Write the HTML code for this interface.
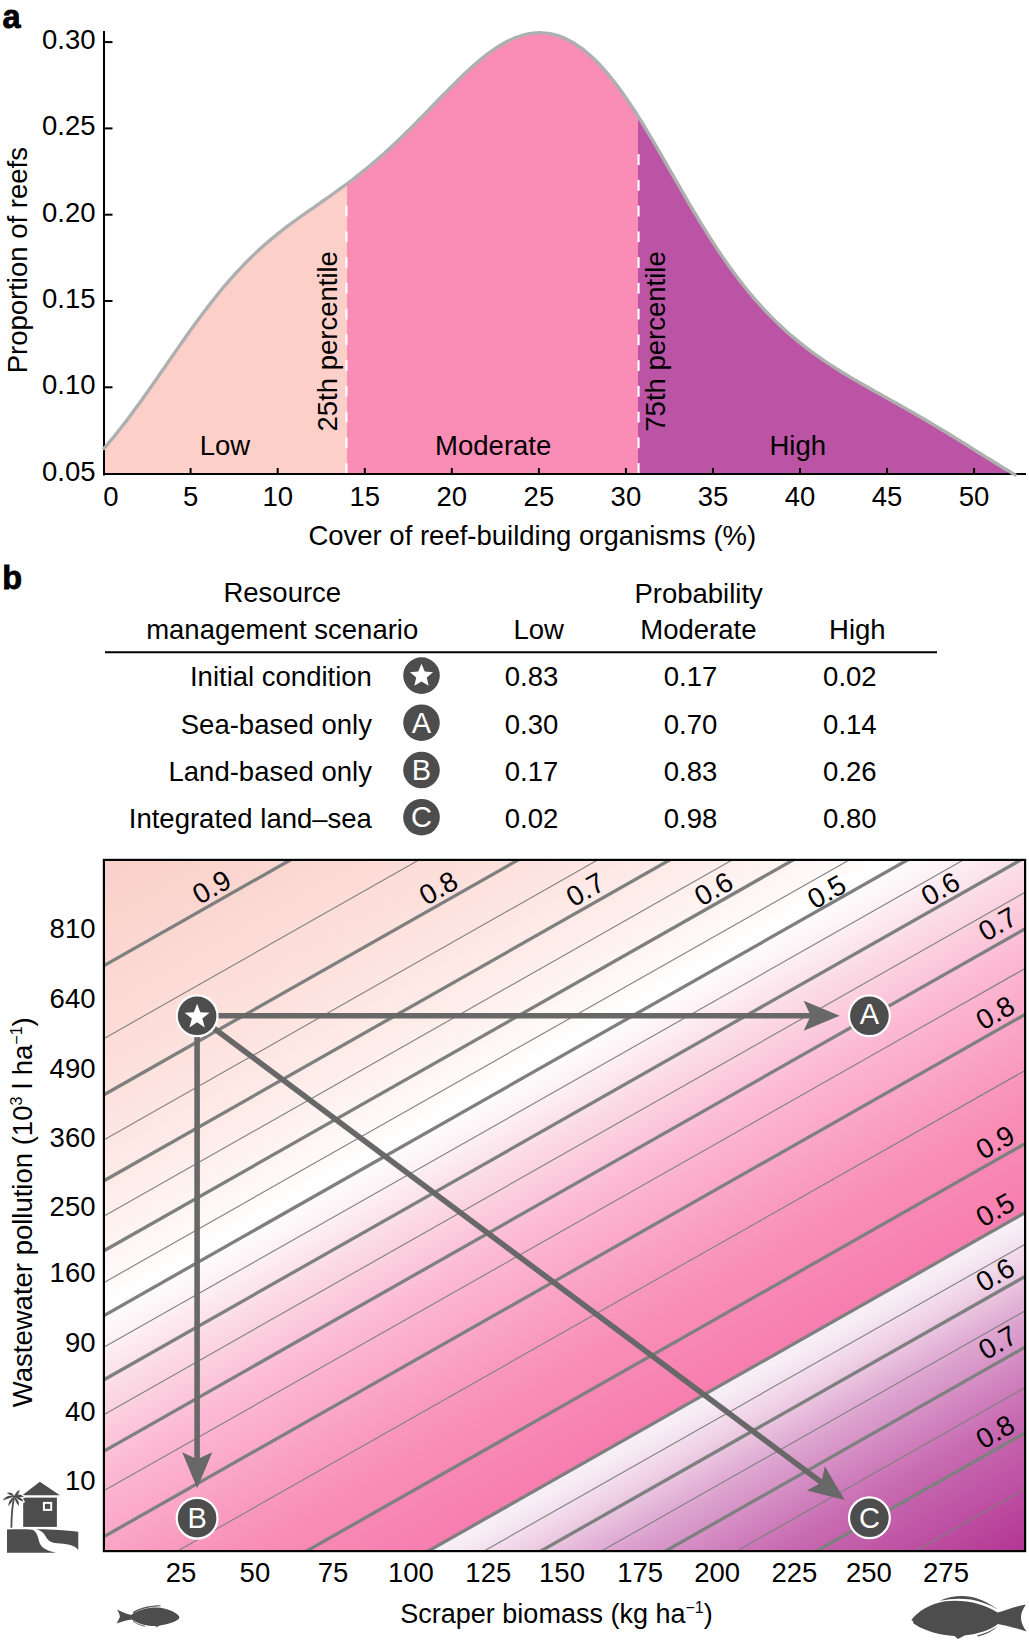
<!DOCTYPE html>
<html><head><meta charset="utf-8"><style>
html,body{margin:0;padding:0;background:#fff;}
svg{display:block;}
text{font-family:"Liberation Sans", sans-serif;}
</style></head><body>
<svg width="1029" height="1640" viewBox="0 0 1029 1640">
<rect width="1029" height="1640" fill="#fff"/>
<defs>
<clipPath id="cLow"><rect x="100" y="0" width="247" height="480"/></clipPath>
<clipPath id="cMod"><rect x="347" y="0" width="291" height="480"/></clipPath>
<clipPath id="cHigh"><rect x="638" y="0" width="400" height="480"/></clipPath>
</defs>
<path d="M104.0,448.4 L107.0,445.0 L110.0,441.4 L113.0,437.8 L116.0,434.1 L119.0,430.3 L122.0,426.5 L125.0,422.6 L128.0,418.7 L131.0,414.7 L134.0,410.6 L137.0,406.5 L140.0,402.4 L143.0,398.2 L146.0,394.0 L149.0,389.8 L152.0,385.5 L155.0,381.2 L158.0,376.9 L161.0,372.5 L164.0,368.2 L167.0,363.9 L170.0,359.5 L173.0,355.2 L176.0,350.9 L179.0,346.6 L182.0,342.3 L185.0,338.0 L188.0,333.8 L191.0,329.6 L194.0,325.5 L197.0,321.3 L200.0,317.3 L203.0,313.3 L206.0,309.3 L209.0,305.4 L212.0,301.5 L215.0,297.7 L218.0,294.0 L221.0,290.3 L224.0,286.7 L227.0,283.2 L230.0,279.7 L233.0,276.3 L236.0,273.0 L239.0,269.8 L242.0,266.6 L245.0,263.5 L248.0,260.4 L251.0,257.5 L254.0,254.6 L257.0,251.7 L260.0,249.0 L263.0,246.3 L266.0,243.6 L269.0,241.1 L272.0,238.5 L275.0,236.1 L278.0,233.6 L281.0,231.3 L284.0,228.9 L287.0,226.6 L290.0,224.4 L293.0,222.2 L296.0,220.0 L299.0,217.8 L302.0,215.7 L305.0,213.6 L308.0,211.4 L311.0,209.4 L314.0,207.3 L317.0,205.2 L320.0,203.1 L323.0,201.0 L326.0,198.9 L329.0,196.8 L332.0,194.7 L335.0,192.5 L338.0,190.4 L341.0,188.2 L344.0,186.0 L347.0,183.8 L350.0,181.5 L353.0,179.3 L356.0,176.9 L359.0,174.6 L362.0,172.2 L365.0,169.8 L368.0,167.3 L371.0,164.8 L374.0,162.3 L377.0,159.7 L380.0,157.1 L383.0,154.4 L386.0,151.7 L389.0,149.0 L392.0,146.2 L395.0,143.4 L398.0,140.6 L401.0,137.7 L404.0,134.8 L407.0,131.8 L410.0,128.9 L413.0,125.9 L416.0,122.9 L419.0,119.8 L422.0,116.8 L425.0,113.7 L428.0,110.6 L431.0,107.5 L434.0,104.4 L437.0,101.3 L440.0,98.3 L443.0,95.2 L446.0,92.1 L449.0,89.1 L452.0,86.1 L455.0,83.1 L458.0,80.1 L461.0,77.2 L464.0,74.3 L467.0,71.5 L470.0,68.8 L473.0,66.1 L476.0,63.5 L479.0,60.9 L482.0,58.4 L485.0,56.0 L488.0,53.7 L491.0,51.5 L494.0,49.4 L497.0,47.4 L500.0,45.5 L503.0,43.8 L506.0,42.1 L509.0,40.6 L512.0,39.2 L515.0,37.9 L518.0,36.8 L521.0,35.8 L524.0,34.9 L527.0,34.2 L530.0,33.6 L533.0,33.2 L536.0,32.9 L539.0,32.8 L542.0,32.9 L545.0,33.1 L548.0,33.4 L551.0,33.9 L554.0,34.6 L557.0,35.4 L560.0,36.4 L563.0,37.6 L566.0,38.9 L569.0,40.4 L572.0,42.0 L575.0,43.8 L578.0,45.8 L581.0,47.9 L584.0,50.2 L587.0,52.7 L590.0,55.3 L593.0,58.0 L596.0,61.0 L599.0,64.0 L602.0,67.2 L605.0,70.6 L608.0,74.1 L611.0,77.8 L614.0,81.6 L617.0,85.5 L620.0,89.5 L623.0,93.7 L626.0,98.0 L629.0,102.4 L632.0,106.9 L635.0,111.5 L638.0,116.2 L641.0,121.0 L644.0,125.9 L647.0,130.8 L650.0,135.8 L653.0,140.9 L656.0,146.0 L659.0,151.2 L662.0,156.4 L665.0,161.6 L668.0,166.8 L671.0,172.0 L674.0,177.3 L677.0,182.5 L680.0,187.7 L683.0,192.9 L686.0,198.1 L689.0,203.3 L692.0,208.4 L695.0,213.4 L698.0,218.4 L701.0,223.4 L704.0,228.2 L707.0,233.1 L710.0,237.8 L713.0,242.5 L716.0,247.1 L719.0,251.6 L722.0,256.1 L725.0,260.4 L728.0,264.7 L731.0,268.9 L734.0,273.0 L737.0,277.0 L740.0,280.9 L743.0,284.8 L746.0,288.5 L749.0,292.2 L752.0,295.8 L755.0,299.3 L758.0,302.7 L761.0,306.1 L764.0,309.3 L767.0,312.5 L770.0,315.6 L773.0,318.6 L776.0,321.6 L779.0,324.5 L782.0,327.3 L785.0,330.1 L788.0,332.7 L791.0,335.4 L794.0,337.9 L797.0,340.4 L800.0,342.9 L803.0,345.2 L806.0,347.6 L809.0,349.9 L812.0,352.1 L815.0,354.3 L818.0,356.4 L821.0,358.5 L824.0,360.6 L827.0,362.6 L830.0,364.6 L833.0,366.5 L836.0,368.4 L839.0,370.3 L842.0,372.2 L845.0,374.0 L848.0,375.8 L851.0,377.6 L854.0,379.4 L857.0,381.1 L860.0,382.9 L863.0,384.6 L866.0,386.3 L869.0,388.0 L872.0,389.7 L875.0,391.4 L878.0,393.0 L881.0,394.7 L884.0,396.4 L887.0,398.1 L890.0,399.7 L893.0,401.4 L896.0,403.1 L899.0,404.8 L902.0,406.5 L905.0,408.1 L908.0,409.9 L911.0,411.6 L914.0,413.3 L917.0,415.0 L920.0,416.7 L923.0,418.5 L926.0,420.2 L929.0,422.0 L932.0,423.8 L935.0,425.6 L938.0,427.4 L941.0,429.2 L944.0,431.0 L947.0,432.8 L950.0,434.7 L953.0,436.5 L956.0,438.4 L959.0,440.2 L962.0,442.1 L965.0,444.0 L968.0,445.8 L971.0,447.7 L974.0,449.6 L977.0,451.5 L980.0,453.3 L983.0,455.2 L986.0,457.1 L989.0,459.0 L992.0,460.8 L995.0,462.7 L998.0,464.5 L1001.0,466.4 L1004.0,468.2 L1007.0,470.0 L1010.0,471.8 L1013.0,473.6 L1015.1,474.9 L1015.1,474.5 L104,474.5 L104,448.4 Z" fill="#fccfc9" clip-path="url(#cLow)"/>
<path d="M104.0,448.4 L107.0,445.0 L110.0,441.4 L113.0,437.8 L116.0,434.1 L119.0,430.3 L122.0,426.5 L125.0,422.6 L128.0,418.7 L131.0,414.7 L134.0,410.6 L137.0,406.5 L140.0,402.4 L143.0,398.2 L146.0,394.0 L149.0,389.8 L152.0,385.5 L155.0,381.2 L158.0,376.9 L161.0,372.5 L164.0,368.2 L167.0,363.9 L170.0,359.5 L173.0,355.2 L176.0,350.9 L179.0,346.6 L182.0,342.3 L185.0,338.0 L188.0,333.8 L191.0,329.6 L194.0,325.5 L197.0,321.3 L200.0,317.3 L203.0,313.3 L206.0,309.3 L209.0,305.4 L212.0,301.5 L215.0,297.7 L218.0,294.0 L221.0,290.3 L224.0,286.7 L227.0,283.2 L230.0,279.7 L233.0,276.3 L236.0,273.0 L239.0,269.8 L242.0,266.6 L245.0,263.5 L248.0,260.4 L251.0,257.5 L254.0,254.6 L257.0,251.7 L260.0,249.0 L263.0,246.3 L266.0,243.6 L269.0,241.1 L272.0,238.5 L275.0,236.1 L278.0,233.6 L281.0,231.3 L284.0,228.9 L287.0,226.6 L290.0,224.4 L293.0,222.2 L296.0,220.0 L299.0,217.8 L302.0,215.7 L305.0,213.6 L308.0,211.4 L311.0,209.4 L314.0,207.3 L317.0,205.2 L320.0,203.1 L323.0,201.0 L326.0,198.9 L329.0,196.8 L332.0,194.7 L335.0,192.5 L338.0,190.4 L341.0,188.2 L344.0,186.0 L347.0,183.8 L350.0,181.5 L353.0,179.3 L356.0,176.9 L359.0,174.6 L362.0,172.2 L365.0,169.8 L368.0,167.3 L371.0,164.8 L374.0,162.3 L377.0,159.7 L380.0,157.1 L383.0,154.4 L386.0,151.7 L389.0,149.0 L392.0,146.2 L395.0,143.4 L398.0,140.6 L401.0,137.7 L404.0,134.8 L407.0,131.8 L410.0,128.9 L413.0,125.9 L416.0,122.9 L419.0,119.8 L422.0,116.8 L425.0,113.7 L428.0,110.6 L431.0,107.5 L434.0,104.4 L437.0,101.3 L440.0,98.3 L443.0,95.2 L446.0,92.1 L449.0,89.1 L452.0,86.1 L455.0,83.1 L458.0,80.1 L461.0,77.2 L464.0,74.3 L467.0,71.5 L470.0,68.8 L473.0,66.1 L476.0,63.5 L479.0,60.9 L482.0,58.4 L485.0,56.0 L488.0,53.7 L491.0,51.5 L494.0,49.4 L497.0,47.4 L500.0,45.5 L503.0,43.8 L506.0,42.1 L509.0,40.6 L512.0,39.2 L515.0,37.9 L518.0,36.8 L521.0,35.8 L524.0,34.9 L527.0,34.2 L530.0,33.6 L533.0,33.2 L536.0,32.9 L539.0,32.8 L542.0,32.9 L545.0,33.1 L548.0,33.4 L551.0,33.9 L554.0,34.6 L557.0,35.4 L560.0,36.4 L563.0,37.6 L566.0,38.9 L569.0,40.4 L572.0,42.0 L575.0,43.8 L578.0,45.8 L581.0,47.9 L584.0,50.2 L587.0,52.7 L590.0,55.3 L593.0,58.0 L596.0,61.0 L599.0,64.0 L602.0,67.2 L605.0,70.6 L608.0,74.1 L611.0,77.8 L614.0,81.6 L617.0,85.5 L620.0,89.5 L623.0,93.7 L626.0,98.0 L629.0,102.4 L632.0,106.9 L635.0,111.5 L638.0,116.2 L641.0,121.0 L644.0,125.9 L647.0,130.8 L650.0,135.8 L653.0,140.9 L656.0,146.0 L659.0,151.2 L662.0,156.4 L665.0,161.6 L668.0,166.8 L671.0,172.0 L674.0,177.3 L677.0,182.5 L680.0,187.7 L683.0,192.9 L686.0,198.1 L689.0,203.3 L692.0,208.4 L695.0,213.4 L698.0,218.4 L701.0,223.4 L704.0,228.2 L707.0,233.1 L710.0,237.8 L713.0,242.5 L716.0,247.1 L719.0,251.6 L722.0,256.1 L725.0,260.4 L728.0,264.7 L731.0,268.9 L734.0,273.0 L737.0,277.0 L740.0,280.9 L743.0,284.8 L746.0,288.5 L749.0,292.2 L752.0,295.8 L755.0,299.3 L758.0,302.7 L761.0,306.1 L764.0,309.3 L767.0,312.5 L770.0,315.6 L773.0,318.6 L776.0,321.6 L779.0,324.5 L782.0,327.3 L785.0,330.1 L788.0,332.7 L791.0,335.4 L794.0,337.9 L797.0,340.4 L800.0,342.9 L803.0,345.2 L806.0,347.6 L809.0,349.9 L812.0,352.1 L815.0,354.3 L818.0,356.4 L821.0,358.5 L824.0,360.6 L827.0,362.6 L830.0,364.6 L833.0,366.5 L836.0,368.4 L839.0,370.3 L842.0,372.2 L845.0,374.0 L848.0,375.8 L851.0,377.6 L854.0,379.4 L857.0,381.1 L860.0,382.9 L863.0,384.6 L866.0,386.3 L869.0,388.0 L872.0,389.7 L875.0,391.4 L878.0,393.0 L881.0,394.7 L884.0,396.4 L887.0,398.1 L890.0,399.7 L893.0,401.4 L896.0,403.1 L899.0,404.8 L902.0,406.5 L905.0,408.1 L908.0,409.9 L911.0,411.6 L914.0,413.3 L917.0,415.0 L920.0,416.7 L923.0,418.5 L926.0,420.2 L929.0,422.0 L932.0,423.8 L935.0,425.6 L938.0,427.4 L941.0,429.2 L944.0,431.0 L947.0,432.8 L950.0,434.7 L953.0,436.5 L956.0,438.4 L959.0,440.2 L962.0,442.1 L965.0,444.0 L968.0,445.8 L971.0,447.7 L974.0,449.6 L977.0,451.5 L980.0,453.3 L983.0,455.2 L986.0,457.1 L989.0,459.0 L992.0,460.8 L995.0,462.7 L998.0,464.5 L1001.0,466.4 L1004.0,468.2 L1007.0,470.0 L1010.0,471.8 L1013.0,473.6 L1015.1,474.9 L1015.1,474.5 L104,474.5 L104,448.4 Z" fill="#f98db6" clip-path="url(#cMod)"/>
<path d="M104.0,448.4 L107.0,445.0 L110.0,441.4 L113.0,437.8 L116.0,434.1 L119.0,430.3 L122.0,426.5 L125.0,422.6 L128.0,418.7 L131.0,414.7 L134.0,410.6 L137.0,406.5 L140.0,402.4 L143.0,398.2 L146.0,394.0 L149.0,389.8 L152.0,385.5 L155.0,381.2 L158.0,376.9 L161.0,372.5 L164.0,368.2 L167.0,363.9 L170.0,359.5 L173.0,355.2 L176.0,350.9 L179.0,346.6 L182.0,342.3 L185.0,338.0 L188.0,333.8 L191.0,329.6 L194.0,325.5 L197.0,321.3 L200.0,317.3 L203.0,313.3 L206.0,309.3 L209.0,305.4 L212.0,301.5 L215.0,297.7 L218.0,294.0 L221.0,290.3 L224.0,286.7 L227.0,283.2 L230.0,279.7 L233.0,276.3 L236.0,273.0 L239.0,269.8 L242.0,266.6 L245.0,263.5 L248.0,260.4 L251.0,257.5 L254.0,254.6 L257.0,251.7 L260.0,249.0 L263.0,246.3 L266.0,243.6 L269.0,241.1 L272.0,238.5 L275.0,236.1 L278.0,233.6 L281.0,231.3 L284.0,228.9 L287.0,226.6 L290.0,224.4 L293.0,222.2 L296.0,220.0 L299.0,217.8 L302.0,215.7 L305.0,213.6 L308.0,211.4 L311.0,209.4 L314.0,207.3 L317.0,205.2 L320.0,203.1 L323.0,201.0 L326.0,198.9 L329.0,196.8 L332.0,194.7 L335.0,192.5 L338.0,190.4 L341.0,188.2 L344.0,186.0 L347.0,183.8 L350.0,181.5 L353.0,179.3 L356.0,176.9 L359.0,174.6 L362.0,172.2 L365.0,169.8 L368.0,167.3 L371.0,164.8 L374.0,162.3 L377.0,159.7 L380.0,157.1 L383.0,154.4 L386.0,151.7 L389.0,149.0 L392.0,146.2 L395.0,143.4 L398.0,140.6 L401.0,137.7 L404.0,134.8 L407.0,131.8 L410.0,128.9 L413.0,125.9 L416.0,122.9 L419.0,119.8 L422.0,116.8 L425.0,113.7 L428.0,110.6 L431.0,107.5 L434.0,104.4 L437.0,101.3 L440.0,98.3 L443.0,95.2 L446.0,92.1 L449.0,89.1 L452.0,86.1 L455.0,83.1 L458.0,80.1 L461.0,77.2 L464.0,74.3 L467.0,71.5 L470.0,68.8 L473.0,66.1 L476.0,63.5 L479.0,60.9 L482.0,58.4 L485.0,56.0 L488.0,53.7 L491.0,51.5 L494.0,49.4 L497.0,47.4 L500.0,45.5 L503.0,43.8 L506.0,42.1 L509.0,40.6 L512.0,39.2 L515.0,37.9 L518.0,36.8 L521.0,35.8 L524.0,34.9 L527.0,34.2 L530.0,33.6 L533.0,33.2 L536.0,32.9 L539.0,32.8 L542.0,32.9 L545.0,33.1 L548.0,33.4 L551.0,33.9 L554.0,34.6 L557.0,35.4 L560.0,36.4 L563.0,37.6 L566.0,38.9 L569.0,40.4 L572.0,42.0 L575.0,43.8 L578.0,45.8 L581.0,47.9 L584.0,50.2 L587.0,52.7 L590.0,55.3 L593.0,58.0 L596.0,61.0 L599.0,64.0 L602.0,67.2 L605.0,70.6 L608.0,74.1 L611.0,77.8 L614.0,81.6 L617.0,85.5 L620.0,89.5 L623.0,93.7 L626.0,98.0 L629.0,102.4 L632.0,106.9 L635.0,111.5 L638.0,116.2 L641.0,121.0 L644.0,125.9 L647.0,130.8 L650.0,135.8 L653.0,140.9 L656.0,146.0 L659.0,151.2 L662.0,156.4 L665.0,161.6 L668.0,166.8 L671.0,172.0 L674.0,177.3 L677.0,182.5 L680.0,187.7 L683.0,192.9 L686.0,198.1 L689.0,203.3 L692.0,208.4 L695.0,213.4 L698.0,218.4 L701.0,223.4 L704.0,228.2 L707.0,233.1 L710.0,237.8 L713.0,242.5 L716.0,247.1 L719.0,251.6 L722.0,256.1 L725.0,260.4 L728.0,264.7 L731.0,268.9 L734.0,273.0 L737.0,277.0 L740.0,280.9 L743.0,284.8 L746.0,288.5 L749.0,292.2 L752.0,295.8 L755.0,299.3 L758.0,302.7 L761.0,306.1 L764.0,309.3 L767.0,312.5 L770.0,315.6 L773.0,318.6 L776.0,321.6 L779.0,324.5 L782.0,327.3 L785.0,330.1 L788.0,332.7 L791.0,335.4 L794.0,337.9 L797.0,340.4 L800.0,342.9 L803.0,345.2 L806.0,347.6 L809.0,349.9 L812.0,352.1 L815.0,354.3 L818.0,356.4 L821.0,358.5 L824.0,360.6 L827.0,362.6 L830.0,364.6 L833.0,366.5 L836.0,368.4 L839.0,370.3 L842.0,372.2 L845.0,374.0 L848.0,375.8 L851.0,377.6 L854.0,379.4 L857.0,381.1 L860.0,382.9 L863.0,384.6 L866.0,386.3 L869.0,388.0 L872.0,389.7 L875.0,391.4 L878.0,393.0 L881.0,394.7 L884.0,396.4 L887.0,398.1 L890.0,399.7 L893.0,401.4 L896.0,403.1 L899.0,404.8 L902.0,406.5 L905.0,408.1 L908.0,409.9 L911.0,411.6 L914.0,413.3 L917.0,415.0 L920.0,416.7 L923.0,418.5 L926.0,420.2 L929.0,422.0 L932.0,423.8 L935.0,425.6 L938.0,427.4 L941.0,429.2 L944.0,431.0 L947.0,432.8 L950.0,434.7 L953.0,436.5 L956.0,438.4 L959.0,440.2 L962.0,442.1 L965.0,444.0 L968.0,445.8 L971.0,447.7 L974.0,449.6 L977.0,451.5 L980.0,453.3 L983.0,455.2 L986.0,457.1 L989.0,459.0 L992.0,460.8 L995.0,462.7 L998.0,464.5 L1001.0,466.4 L1004.0,468.2 L1007.0,470.0 L1010.0,471.8 L1013.0,473.6 L1015.1,474.9 L1015.1,474.5 L104,474.5 L104,448.4 Z" fill="#bc54a6" clip-path="url(#cHigh)"/>
<rect x="345.4" y="463.2" width="2.1" height="10.8" fill="#fff"/><rect x="345.4" y="437.4" width="2.1" height="10.8" fill="#fff"/><rect x="345.4" y="411.7" width="2.1" height="10.8" fill="#fff"/><rect x="345.4" y="385.9" width="2.1" height="10.8" fill="#fff"/><rect x="345.4" y="360.2" width="2.1" height="10.8" fill="#fff"/><rect x="345.4" y="334.4" width="2.1" height="10.8" fill="#fff"/><rect x="345.4" y="308.7" width="2.1" height="10.8" fill="#fff"/><rect x="345.4" y="282.9" width="2.1" height="10.8" fill="#fff"/><rect x="345.4" y="257.2" width="2.1" height="10.8" fill="#fff"/><rect x="345.4" y="231.4" width="2.1" height="10.8" fill="#fff"/><rect x="345.4" y="205.7" width="2.1" height="10.8" fill="#fff"/>
<rect x="637.5" y="463.2" width="2.1" height="10.8" fill="#fff"/><rect x="637.5" y="437.4" width="2.1" height="10.8" fill="#fff"/><rect x="637.5" y="411.7" width="2.1" height="10.8" fill="#fff"/><rect x="637.5" y="385.9" width="2.1" height="10.8" fill="#fff"/><rect x="637.5" y="360.2" width="2.1" height="10.8" fill="#fff"/><rect x="637.5" y="334.4" width="2.1" height="10.8" fill="#fff"/><rect x="637.5" y="308.7" width="2.1" height="10.8" fill="#fff"/><rect x="637.5" y="282.9" width="2.1" height="10.8" fill="#fff"/><rect x="637.5" y="257.2" width="2.1" height="10.8" fill="#fff"/><rect x="637.5" y="231.4" width="2.1" height="10.8" fill="#fff"/><rect x="637.5" y="205.7" width="2.1" height="10.8" fill="#fff"/><rect x="637.5" y="179.9" width="2.1" height="10.8" fill="#fff"/><rect x="637.5" y="154.2" width="2.1" height="10.8" fill="#fff"/>
<path d="M104,31 V475.5" stroke="#000" stroke-width="2" fill="none"/>
<path d="M103,474.1 H1026" stroke="#000" stroke-width="2" fill="none"/>
<path d="M104,42.1 H112.5" stroke="#000" stroke-width="2"/>
<path d="M104,128.4 H112.5" stroke="#000" stroke-width="2"/>
<path d="M104,214.7 H112.5" stroke="#000" stroke-width="2"/>
<path d="M104,301.0 H112.5" stroke="#000" stroke-width="2"/>
<path d="M104,387.3 H112.5" stroke="#000" stroke-width="2"/>
<path d="M190.6,474 V468" stroke="#000" stroke-width="2"/>
<path d="M277.7,474 V468" stroke="#000" stroke-width="2"/>
<path d="M364.8,474 V468" stroke="#000" stroke-width="2"/>
<path d="M451.8,474 V468" stroke="#000" stroke-width="2"/>
<path d="M538.9,474 V468" stroke="#000" stroke-width="2"/>
<path d="M625.9,474 V468" stroke="#000" stroke-width="2"/>
<path d="M713.0,474 V468" stroke="#000" stroke-width="2"/>
<path d="M800.0,474 V468" stroke="#000" stroke-width="2"/>
<path d="M887.0,474 V468" stroke="#000" stroke-width="2"/>
<path d="M974.1,474 V468" stroke="#000" stroke-width="2"/>
<path d="M104.0,448.4 L107.0,445.0 L110.0,441.4 L113.0,437.8 L116.0,434.1 L119.0,430.3 L122.0,426.5 L125.0,422.6 L128.0,418.7 L131.0,414.7 L134.0,410.6 L137.0,406.5 L140.0,402.4 L143.0,398.2 L146.0,394.0 L149.0,389.8 L152.0,385.5 L155.0,381.2 L158.0,376.9 L161.0,372.5 L164.0,368.2 L167.0,363.9 L170.0,359.5 L173.0,355.2 L176.0,350.9 L179.0,346.6 L182.0,342.3 L185.0,338.0 L188.0,333.8 L191.0,329.6 L194.0,325.5 L197.0,321.3 L200.0,317.3 L203.0,313.3 L206.0,309.3 L209.0,305.4 L212.0,301.5 L215.0,297.7 L218.0,294.0 L221.0,290.3 L224.0,286.7 L227.0,283.2 L230.0,279.7 L233.0,276.3 L236.0,273.0 L239.0,269.8 L242.0,266.6 L245.0,263.5 L248.0,260.4 L251.0,257.5 L254.0,254.6 L257.0,251.7 L260.0,249.0 L263.0,246.3 L266.0,243.6 L269.0,241.1 L272.0,238.5 L275.0,236.1 L278.0,233.6 L281.0,231.3 L284.0,228.9 L287.0,226.6 L290.0,224.4 L293.0,222.2 L296.0,220.0 L299.0,217.8 L302.0,215.7 L305.0,213.6 L308.0,211.4 L311.0,209.4 L314.0,207.3 L317.0,205.2 L320.0,203.1 L323.0,201.0 L326.0,198.9 L329.0,196.8 L332.0,194.7 L335.0,192.5 L338.0,190.4 L341.0,188.2 L344.0,186.0 L347.0,183.8 L350.0,181.5 L353.0,179.3 L356.0,176.9 L359.0,174.6 L362.0,172.2 L365.0,169.8 L368.0,167.3 L371.0,164.8 L374.0,162.3 L377.0,159.7 L380.0,157.1 L383.0,154.4 L386.0,151.7 L389.0,149.0 L392.0,146.2 L395.0,143.4 L398.0,140.6 L401.0,137.7 L404.0,134.8 L407.0,131.8 L410.0,128.9 L413.0,125.9 L416.0,122.9 L419.0,119.8 L422.0,116.8 L425.0,113.7 L428.0,110.6 L431.0,107.5 L434.0,104.4 L437.0,101.3 L440.0,98.3 L443.0,95.2 L446.0,92.1 L449.0,89.1 L452.0,86.1 L455.0,83.1 L458.0,80.1 L461.0,77.2 L464.0,74.3 L467.0,71.5 L470.0,68.8 L473.0,66.1 L476.0,63.5 L479.0,60.9 L482.0,58.4 L485.0,56.0 L488.0,53.7 L491.0,51.5 L494.0,49.4 L497.0,47.4 L500.0,45.5 L503.0,43.8 L506.0,42.1 L509.0,40.6 L512.0,39.2 L515.0,37.9 L518.0,36.8 L521.0,35.8 L524.0,34.9 L527.0,34.2 L530.0,33.6 L533.0,33.2 L536.0,32.9 L539.0,32.8 L542.0,32.9 L545.0,33.1 L548.0,33.4 L551.0,33.9 L554.0,34.6 L557.0,35.4 L560.0,36.4 L563.0,37.6 L566.0,38.9 L569.0,40.4 L572.0,42.0 L575.0,43.8 L578.0,45.8 L581.0,47.9 L584.0,50.2 L587.0,52.7 L590.0,55.3 L593.0,58.0 L596.0,61.0 L599.0,64.0 L602.0,67.2 L605.0,70.6 L608.0,74.1 L611.0,77.8 L614.0,81.6 L617.0,85.5 L620.0,89.5 L623.0,93.7 L626.0,98.0 L629.0,102.4 L632.0,106.9 L635.0,111.5 L638.0,116.2 L641.0,121.0 L644.0,125.9 L647.0,130.8 L650.0,135.8 L653.0,140.9 L656.0,146.0 L659.0,151.2 L662.0,156.4 L665.0,161.6 L668.0,166.8 L671.0,172.0 L674.0,177.3 L677.0,182.5 L680.0,187.7 L683.0,192.9 L686.0,198.1 L689.0,203.3 L692.0,208.4 L695.0,213.4 L698.0,218.4 L701.0,223.4 L704.0,228.2 L707.0,233.1 L710.0,237.8 L713.0,242.5 L716.0,247.1 L719.0,251.6 L722.0,256.1 L725.0,260.4 L728.0,264.7 L731.0,268.9 L734.0,273.0 L737.0,277.0 L740.0,280.9 L743.0,284.8 L746.0,288.5 L749.0,292.2 L752.0,295.8 L755.0,299.3 L758.0,302.7 L761.0,306.1 L764.0,309.3 L767.0,312.5 L770.0,315.6 L773.0,318.6 L776.0,321.6 L779.0,324.5 L782.0,327.3 L785.0,330.1 L788.0,332.7 L791.0,335.4 L794.0,337.9 L797.0,340.4 L800.0,342.9 L803.0,345.2 L806.0,347.6 L809.0,349.9 L812.0,352.1 L815.0,354.3 L818.0,356.4 L821.0,358.5 L824.0,360.6 L827.0,362.6 L830.0,364.6 L833.0,366.5 L836.0,368.4 L839.0,370.3 L842.0,372.2 L845.0,374.0 L848.0,375.8 L851.0,377.6 L854.0,379.4 L857.0,381.1 L860.0,382.9 L863.0,384.6 L866.0,386.3 L869.0,388.0 L872.0,389.7 L875.0,391.4 L878.0,393.0 L881.0,394.7 L884.0,396.4 L887.0,398.1 L890.0,399.7 L893.0,401.4 L896.0,403.1 L899.0,404.8 L902.0,406.5 L905.0,408.1 L908.0,409.9 L911.0,411.6 L914.0,413.3 L917.0,415.0 L920.0,416.7 L923.0,418.5 L926.0,420.2 L929.0,422.0 L932.0,423.8 L935.0,425.6 L938.0,427.4 L941.0,429.2 L944.0,431.0 L947.0,432.8 L950.0,434.7 L953.0,436.5 L956.0,438.4 L959.0,440.2 L962.0,442.1 L965.0,444.0 L968.0,445.8 L971.0,447.7 L974.0,449.6 L977.0,451.5 L980.0,453.3 L983.0,455.2 L986.0,457.1 L989.0,459.0 L992.0,460.8 L995.0,462.7 L998.0,464.5 L1001.0,466.4 L1004.0,468.2 L1007.0,470.0 L1010.0,471.8 L1013.0,473.6 L1015.1,474.9" fill="none" stroke="#aeb0af" stroke-width="3.4" stroke-linecap="round" stroke-linejoin="round"/>
<text x="95.5" y="49.1" font-size="27.5" text-anchor="end" fill="#000" font-weight="normal" >0.30</text>
<text x="95.5" y="135.4" font-size="27.5" text-anchor="end" fill="#000" font-weight="normal" >0.25</text>
<text x="95.5" y="221.7" font-size="27.5" text-anchor="end" fill="#000" font-weight="normal" >0.20</text>
<text x="95.5" y="308.0" font-size="27.5" text-anchor="end" fill="#000" font-weight="normal" >0.15</text>
<text x="95.5" y="394.3" font-size="27.5" text-anchor="end" fill="#000" font-weight="normal" >0.10</text>
<text x="95.5" y="480.6" font-size="27.5" text-anchor="end" fill="#000" font-weight="normal" >0.05</text>
<text x="110.8" y="506.0" font-size="27.5" text-anchor="middle" fill="#000" font-weight="normal" >0</text>
<text x="190.6" y="506.0" font-size="27.5" text-anchor="middle" fill="#000" font-weight="normal" >5</text>
<text x="277.7" y="506.0" font-size="27.5" text-anchor="middle" fill="#000" font-weight="normal" >10</text>
<text x="364.8" y="506.0" font-size="27.5" text-anchor="middle" fill="#000" font-weight="normal" >15</text>
<text x="451.8" y="506.0" font-size="27.5" text-anchor="middle" fill="#000" font-weight="normal" >20</text>
<text x="538.9" y="506.0" font-size="27.5" text-anchor="middle" fill="#000" font-weight="normal" >25</text>
<text x="625.9" y="506.0" font-size="27.5" text-anchor="middle" fill="#000" font-weight="normal" >30</text>
<text x="713.0" y="506.0" font-size="27.5" text-anchor="middle" fill="#000" font-weight="normal" >35</text>
<text x="800.0" y="506.0" font-size="27.5" text-anchor="middle" fill="#000" font-weight="normal" >40</text>
<text x="887.0" y="506.0" font-size="27.5" text-anchor="middle" fill="#000" font-weight="normal" >45</text>
<text x="974.1" y="506.0" font-size="27.5" text-anchor="middle" fill="#000" font-weight="normal" >50</text>
<text x="532.3" y="544.5" font-size="27.5" text-anchor="middle" fill="#000" font-weight="normal" >Cover of reef-building organisms (%)</text>
<text x="225.0" y="455.4" font-size="27.5" text-anchor="middle" fill="#000" font-weight="normal" >Low</text>
<text x="493.2" y="455.3" font-size="27.5" text-anchor="middle" fill="#000" font-weight="normal" >Moderate</text>
<text x="797.7" y="454.8" font-size="27.5" text-anchor="middle" fill="#000" font-weight="normal" >High</text>
<text transform="translate(337,341.3) rotate(-90)" font-size="27.5" text-anchor="middle">25th percentile</text>
<text transform="translate(665,341.5) rotate(-90)" font-size="27.5" text-anchor="middle">75th percentile</text>
<text transform="translate(27,260.2) rotate(-90)" font-size="27.5" text-anchor="middle">Proportion of reefs</text>
<text x="2.6" y="28.3" font-size="32.5" text-anchor="start" fill="#000" font-weight="bold" stroke="#000" stroke-width="0.8">a</text>
<text x="2.2" y="589.2" font-size="32.5" text-anchor="start" fill="#000" font-weight="bold" stroke="#000" stroke-width="0.8">b</text>
<text x="282.3" y="602.2" font-size="27.5" text-anchor="middle" fill="#000" font-weight="normal" >Resource</text>
<text x="282.2" y="638.9" font-size="27.5" text-anchor="middle" fill="#000" font-weight="normal" >management scenario</text>
<text x="698.6" y="602.8" font-size="27.5" text-anchor="middle" fill="#000" font-weight="normal" >Probability</text>
<text x="538.7" y="638.9" font-size="27.5" text-anchor="middle" fill="#000" font-weight="normal" >Low</text>
<text x="698.4" y="638.9" font-size="27.5" text-anchor="middle" fill="#000" font-weight="normal" >Moderate</text>
<text x="857.3" y="638.9" font-size="27.5" text-anchor="middle" fill="#000" font-weight="normal" >High</text>
<path d="M105,652.2 H937" stroke="#000" stroke-width="2.1"/>
<text x="371.9" y="686.2" font-size="27.5" text-anchor="end" fill="#000" font-weight="normal" >Initial condition</text>
<circle cx="421.5" cy="675.6" r="18.3" fill="#4d4d4d"/><polygon points="421.50,663.70 424.73,671.45 433.10,672.13 426.73,677.60 428.67,685.77 421.50,681.40 414.33,685.77 416.27,677.60 409.90,672.13 418.27,671.45" fill="#fff"/>
<text x="504.8" y="686.2" font-size="27.5" text-anchor="start" fill="#000" font-weight="normal" >0.83</text>
<text x="663.8" y="686.2" font-size="27.5" text-anchor="start" fill="#000" font-weight="normal" >0.17</text>
<text x="823.1" y="686.2" font-size="27.5" text-anchor="start" fill="#000" font-weight="normal" >0.02</text>
<text x="371.9" y="733.7" font-size="27.5" text-anchor="end" fill="#000" font-weight="normal" >Sea-based only</text>
<circle cx="421.5" cy="722.7" r="18.3" fill="#4d4d4d"/><text x="421.5" y="732.5" font-size="29" text-anchor="middle" fill="#fff">A</text>
<text x="504.8" y="733.7" font-size="27.5" text-anchor="start" fill="#000" font-weight="normal" >0.30</text>
<text x="663.8" y="733.7" font-size="27.5" text-anchor="start" fill="#000" font-weight="normal" >0.70</text>
<text x="823.1" y="733.7" font-size="27.5" text-anchor="start" fill="#000" font-weight="normal" >0.14</text>
<text x="371.9" y="781.0" font-size="27.5" text-anchor="end" fill="#000" font-weight="normal" >Land-based only</text>
<circle cx="421.5" cy="770.0" r="18.3" fill="#4d4d4d"/><text x="421.5" y="779.8" font-size="29" text-anchor="middle" fill="#fff">B</text>
<text x="504.8" y="781.0" font-size="27.5" text-anchor="start" fill="#000" font-weight="normal" >0.17</text>
<text x="663.8" y="781.0" font-size="27.5" text-anchor="start" fill="#000" font-weight="normal" >0.83</text>
<text x="823.1" y="781.0" font-size="27.5" text-anchor="start" fill="#000" font-weight="normal" >0.26</text>
<text x="371.9" y="828.2" font-size="27.5" text-anchor="end" fill="#000" font-weight="normal" >Integrated land–sea</text>
<circle cx="421.5" cy="817.2" r="18.3" fill="#4d4d4d"/><text x="421.5" y="827.0" font-size="29" text-anchor="middle" fill="#fff">C</text>
<text x="504.8" y="828.2" font-size="27.5" text-anchor="start" fill="#000" font-weight="normal" >0.02</text>
<text x="663.8" y="828.2" font-size="27.5" text-anchor="start" fill="#000" font-weight="normal" >0.98</text>
<text x="823.1" y="828.2" font-size="27.5" text-anchor="start" fill="#000" font-weight="normal" >0.80</text>
<defs>
<clipPath id="cFrame"><rect x="104" y="860" width="921" height="691"/></clipPath>
<linearGradient id="bg" gradientUnits="userSpaceOnUse" x1="0.00" y1="900.00" x2="536.33" y2="1845.90">
<stop offset="0.00000" stop-color="#fbd1ca"/>
<stop offset="0.04800" stop-color="#fbd3cc"/>
<stop offset="0.13600" stop-color="#fcdad5"/>
<stop offset="0.21600" stop-color="#fde3df"/>
<stop offset="0.28800" stop-color="#feedea"/>
<stop offset="0.34400" stop-color="#fef8f6"/>
<stop offset="0.37200" stop-color="#ffffff"/>
<stop offset="0.39600" stop-color="#fdf5f8"/>
<stop offset="0.44480" stop-color="#fbd9e4"/>
<stop offset="0.50400" stop-color="#fcbad3"/>
<stop offset="0.62800" stop-color="#f88fb6"/>
<stop offset="0.71512" stop-color="#f77daf"/>
<stop offset="0.71512" stop-color="#f8f0f6"/>
<stop offset="0.72400" stop-color="#f7edf5"/>
<stop offset="0.75520" stop-color="#efd1e6"/>
<stop offset="0.80000" stop-color="#dca3cf"/>
<stop offset="0.87200" stop-color="#c86cb2"/>
<stop offset="0.98000" stop-color="#b43894"/>
<stop offset="1.00000" stop-color="#b23592"/>
</linearGradient>
</defs>
<rect x="104" y="860" width="921" height="691" fill="url(#bg)"/>
<g clip-path="url(#cFrame)" fill="none">
<path d="M90,1046.47 L1040,507.82" stroke="#7e807f" stroke-width="1.1"/>
<path d="M90,1147.77 L1040,609.12" stroke="#7e807f" stroke-width="1.1"/>
<path d="M90,1224.07 L1040,685.42" stroke="#7e807f" stroke-width="1.1"/>
<path d="M90,1290.47 L1040,751.82" stroke="#7e807f" stroke-width="1.1"/>
<path d="M90,1355.17 L1040,816.52" stroke="#7e807f" stroke-width="1.1"/>
<path d="M90,1422.47 L1040,883.82" stroke="#7e807f" stroke-width="1.1"/>
<path d="M90,1498.67 L1040,960.02" stroke="#7e807f" stroke-width="1.1"/>
<path d="M90,1600.67 L1040,1062.02" stroke="#7e807f" stroke-width="1.1"/>
<path d="M90,1774.47 L1040,1235.82" stroke="#7e807f" stroke-width="1.1"/>
<path d="M90,1841.07 L1040,1302.42" stroke="#7e807f" stroke-width="1.1"/>
<path d="M90,1917.77 L1040,1379.12" stroke="#7e807f" stroke-width="1.1"/>
<path d="M90,2018.97 L1040,1480.32" stroke="#7e807f" stroke-width="1.1"/>
<path d="M90,973.57 L1040,434.92" stroke="#7e807f" stroke-width="3.3"/>
<path d="M90,1102.67 L1040,564.02" stroke="#7e807f" stroke-width="3.3"/>
<path d="M90,1188.67 L1040,650.02" stroke="#7e807f" stroke-width="3.3"/>
<path d="M90,1258.67 L1040,720.02" stroke="#7e807f" stroke-width="3.3"/>
<path d="M90,1323.47 L1040,784.82" stroke="#7e807f" stroke-width="3.3"/>
<path d="M90,1387.67 L1040,849.02" stroke="#7e807f" stroke-width="3.3"/>
<path d="M90,1458.97 L1040,920.32" stroke="#7e807f" stroke-width="3.3"/>
<path d="M90,1544.57 L1040,1005.92" stroke="#7e807f" stroke-width="3.3"/>
<path d="M90,1673.87 L1040,1135.22" stroke="#7e807f" stroke-width="3.3"/>
<path d="M90,1742.87 L1040,1204.22" stroke="#7e807f" stroke-width="3.3"/>
<path d="M90,1806.67 L1040,1268.02" stroke="#7e807f" stroke-width="3.3"/>
<path d="M90,1877.37 L1040,1338.72" stroke="#7e807f" stroke-width="3.3"/>
<path d="M90,1963.07 L1040,1424.42" stroke="#7e807f" stroke-width="3.3"/>
</g>
<text transform="translate(211.4,886.8) rotate(-29.55)" font-size="28" text-anchor="middle" y="10">0.9</text>
<text transform="translate(438.2,887.7) rotate(-29.55)" font-size="28" text-anchor="middle" y="10">0.8</text>
<text transform="translate(585.2,889.2) rotate(-29.55)" font-size="28" text-anchor="middle" y="10">0.7</text>
<text transform="translate(713.5,888.4) rotate(-29.55)" font-size="28" text-anchor="middle" y="10">0.6</text>
<text transform="translate(826.5,891.4) rotate(-29.55)" font-size="28" text-anchor="middle" y="10">0.5</text>
<text transform="translate(940.3,888.5) rotate(-29.55)" font-size="28" text-anchor="middle" y="10">0.6</text>
<text transform="translate(997.5,923.7) rotate(-29.55)" font-size="28" text-anchor="middle" y="10">0.7</text>
<text transform="translate(994.9,1012.5) rotate(-29.55)" font-size="28" text-anchor="middle" y="10">0.8</text>
<text transform="translate(994.9,1142.0) rotate(-29.55)" font-size="28" text-anchor="middle" y="10">0.9</text>
<text transform="translate(994.9,1209.5) rotate(-29.55)" font-size="28" text-anchor="middle" y="10">0.5</text>
<text transform="translate(994.9,1274.4) rotate(-29.55)" font-size="28" text-anchor="middle" y="10">0.6</text>
<text transform="translate(997.5,1342.3) rotate(-29.55)" font-size="28" text-anchor="middle" y="10">0.7</text>
<text transform="translate(994.9,1431.5) rotate(-29.55)" font-size="28" text-anchor="middle" y="10">0.8</text>
<path d="M212.1,1015.8 L812.0,1015.8" stroke="#686868" stroke-width="5.6" fill="none"/>
<polygon points="839.7,1015.7 803.7,1030.7 810.7,1015.7 803.7,1000.7" fill="#686868"/>
<path d="M197.1,1030.8 L197.1,1462.0" stroke="#686868" stroke-width="5.6" fill="none"/>
<polygon points="197.2,1488.2 182.2,1452.2 197.2,1459.2 212.2,1452.2" fill="#686868"/>
<path d="M209.1,1024.8 L822.3,1483.1" stroke="#686868" stroke-width="5.6" fill="none"/>
<polygon points="844.7,1499.9 806.9,1490.4 821.5,1482.5 824.8,1466.3" fill="#686868"/>
<circle cx="197.1" cy="1015.8" r="20.4" fill="#4d4d4d" stroke="#fff" stroke-width="2.2"/><polygon points="197.10,1003.70 200.33,1012.35 209.56,1012.75 202.33,1018.50 204.80,1027.40 197.10,1022.30 189.40,1027.40 191.87,1018.50 184.64,1012.75 193.87,1012.35" fill="#fff"/>
<circle cx="869.4" cy="1015.8" r="20.4" fill="#4d4d4d" stroke="#fff" stroke-width="2.2"/><text x="869.4" y="1024.2" font-size="29" text-anchor="middle" fill="#fff">A</text>
<circle cx="197.1" cy="1518.2" r="20.4" fill="#4d4d4d" stroke="#fff" stroke-width="2.2"/><text x="197.1" y="1528.2" font-size="29" text-anchor="middle" fill="#fff">B</text>
<circle cx="869.4" cy="1517.8" r="20.4" fill="#4d4d4d" stroke="#fff" stroke-width="2.2"/><text x="869.4" y="1527.8" font-size="29" text-anchor="middle" fill="#fff">C</text>
<rect x="103.9" y="859.9" width="921.2" height="691.2" fill="none" stroke="#000" stroke-width="2.2"/>
<text x="95.5" y="938.1" font-size="27.5" text-anchor="end" fill="#000" font-weight="normal" >810</text>
<text x="95.5" y="1008.1" font-size="27.5" text-anchor="end" fill="#000" font-weight="normal" >640</text>
<text x="95.5" y="1077.5" font-size="27.5" text-anchor="end" fill="#000" font-weight="normal" >490</text>
<text x="95.5" y="1146.8" font-size="27.5" text-anchor="end" fill="#000" font-weight="normal" >360</text>
<text x="95.5" y="1216.0" font-size="27.5" text-anchor="end" fill="#000" font-weight="normal" >250</text>
<text x="95.5" y="1282.3" font-size="27.5" text-anchor="end" fill="#000" font-weight="normal" >160</text>
<text x="95.5" y="1351.5" font-size="27.5" text-anchor="end" fill="#000" font-weight="normal" >90</text>
<text x="95.5" y="1420.6" font-size="27.5" text-anchor="end" fill="#000" font-weight="normal" >40</text>
<text x="95.5" y="1489.8" font-size="27.5" text-anchor="end" fill="#000" font-weight="normal" >10</text>
<text x="181.1" y="1581.6" font-size="27.5" text-anchor="middle" fill="#000" font-weight="normal" >25</text>
<text x="254.9" y="1581.6" font-size="27.5" text-anchor="middle" fill="#000" font-weight="normal" >50</text>
<text x="333.1" y="1581.6" font-size="27.5" text-anchor="middle" fill="#000" font-weight="normal" >75</text>
<text x="410.9" y="1581.6" font-size="27.5" text-anchor="middle" fill="#000" font-weight="normal" >100</text>
<text x="488.3" y="1581.6" font-size="27.5" text-anchor="middle" fill="#000" font-weight="normal" >125</text>
<text x="562.0" y="1581.6" font-size="27.5" text-anchor="middle" fill="#000" font-weight="normal" >150</text>
<text x="640.1" y="1581.6" font-size="27.5" text-anchor="middle" fill="#000" font-weight="normal" >175</text>
<text x="717.2" y="1581.6" font-size="27.5" text-anchor="middle" fill="#000" font-weight="normal" >200</text>
<text x="794.4" y="1581.6" font-size="27.5" text-anchor="middle" fill="#000" font-weight="normal" >225</text>
<text x="868.9" y="1581.6" font-size="27.5" text-anchor="middle" fill="#000" font-weight="normal" >250</text>
<text x="946.0" y="1581.6" font-size="27.5" text-anchor="middle" fill="#000" font-weight="normal" >275</text>
<text x="556.5" y="1622.7" font-size="27.0" text-anchor="middle" fill="#000" font-weight="normal" >Scraper biomass (kg ha<tspan font-size="16" dy="-10">−1</tspan><tspan dy="10">)</tspan></text>
<text transform="translate(32,1212.2) rotate(-90)" font-size="27.5" text-anchor="middle">Wastewater pollution (10<tspan font-size="16" dy="-10">3</tspan><tspan dy="10"> l ha</tspan><tspan font-size="16" dy="-10">−1</tspan><tspan dy="10">)</tspan></text>
<polygon points="39.8,1481.8 22.3,1495.2 59.9,1495.2" fill="#4d4d4d"/>
<rect x="23.2" y="1497.6" width="33.7" height="29.3" fill="#4d4d4d"/>
<rect x="43.9" y="1502.9" width="7.3" height="7" fill="none" stroke="#fff" stroke-width="2"/>
<path d="M11.4,1527.8 C11.5,1516 12.2,1506 14,1498" stroke="#4d4d4d" stroke-width="1.8" fill="none"/>
<path d="M14.30,1496.40 Q19.08,1497.05 23.90,1496.90 Q19.33,1492.26 14.30,1496.40 Z M14.30,1496.40 Q18.45,1499.96 23.60,1501.80 Q20.86,1495.81 14.30,1496.40 Z" fill="#fff" stroke="#fff" stroke-width="2.4" stroke-linejoin="round"/>
<path d="M14.30,1496.40 Q12.01,1491.32 6.70,1493.00 Q10.13,1495.52 14.30,1496.40 Z M14.30,1496.40 Q19.08,1495.03 19.80,1490.10 Q15.62,1492.00 14.30,1496.40 Z M14.30,1496.40 Q6.73,1493.70 2.60,1500.60 Q8.42,1498.41 14.30,1496.40 Z M14.30,1496.40 Q19.08,1497.05 23.90,1496.90 Q19.33,1492.26 14.30,1496.40 Z M14.30,1496.40 Q18.45,1499.96 23.60,1501.80 Q20.86,1495.81 14.30,1496.40 Z M14.30,1496.40 Q8.53,1499.61 8.20,1506.20 Q12.61,1502.15 14.30,1496.40 Z M14.30,1496.40 Q15.04,1501.95 19.00,1505.90 Q19.34,1499.82 14.30,1496.40 Z" fill="#4d4d4d"/>
<circle cx="14.3" cy="1496.7" r="1.3" fill="#4d4d4d"/>
<path d="M7,1529.5 C15,1529.2 25,1529 32.5,1529.7 C36,1531 38,1536 39,1541 C40.5,1547 45,1550.5 56,1552.7 L7,1552.7 Z" fill="#4d4d4d"/>
<path d="M36.5,1529.3 C45,1529.3 60,1529.8 78.3,1531.8 L78.3,1550 C75,1546 70,1544 60,1543.5 C52,1543 48.5,1541.5 46,1537 C44,1533 41,1530.5 36.5,1529.3 Z" fill="#4d4d4d"/>
<path d="M117,1609.4 C120,1611 125,1613.5 131,1615 C138,1610 147,1607.5 157,1607.5 C167,1608 174,1611.5 178.3,1615.2 C180,1616.8 179.6,1618.6 177.8,1619.8 C173.5,1622.5 167,1624.5 160,1625.5 L155.4,1627.5 L156,1626 C147,1626.5 138,1623.5 131.5,1619.5 C126,1620.5 120,1622 116.5,1623.5 C118.5,1620 119.5,1618 119.9,1616.7 C119.5,1614 118.5,1611.5 117,1609.4 Z" fill="#4d4d4d"/>
<path d="M133,1612.3 C140,1608 149,1605.6 160.5,1605.8 C149,1606.5 141,1608.6 133.8,1612.9 Z" fill="#4d4d4d" stroke="#4d4d4d" stroke-width="0.6"/>
<path d="M133,1621 C137,1624 141,1625.5 145,1626.3" stroke="#4d4d4d" stroke-width="0.8" fill="none"/>
<path d="M911.3,1620.1 C918,1611 930,1604 945,1601.3 C965,1599 985,1604 997.5,1612.6 C1006,1610 1016,1606 1026,1604.4 C1022,1610 1021,1614 1021,1617.6 C1021,1622 1023,1627 1026.6,1631.4 C1016,1628 1006,1625.5 998,1623.9 C990,1630 978,1634 965,1635.2 L958,1638.9 L954.5,1636 C940,1635 925,1631 916,1625 C913,1623.8 912.5,1622 913.5,1621.6 Z" fill="#4d4d4d"/>
<path d="M939.5,1600.8 C952,1595.5 962,1595.2 972,1597 C982,1599.5 990,1603.5 998,1609.8 C990,1605 981,1601.6 971,1599.6 C961,1598 951,1598.5 939.5,1600.8 Z" fill="#4d4d4d"/>
<path d="M977,1635.5 C985,1633.5 992,1630.5 998,1626 C993,1631 986,1634.5 978,1636.5 Z" fill="#4d4d4d"/>
</svg></body></html>
